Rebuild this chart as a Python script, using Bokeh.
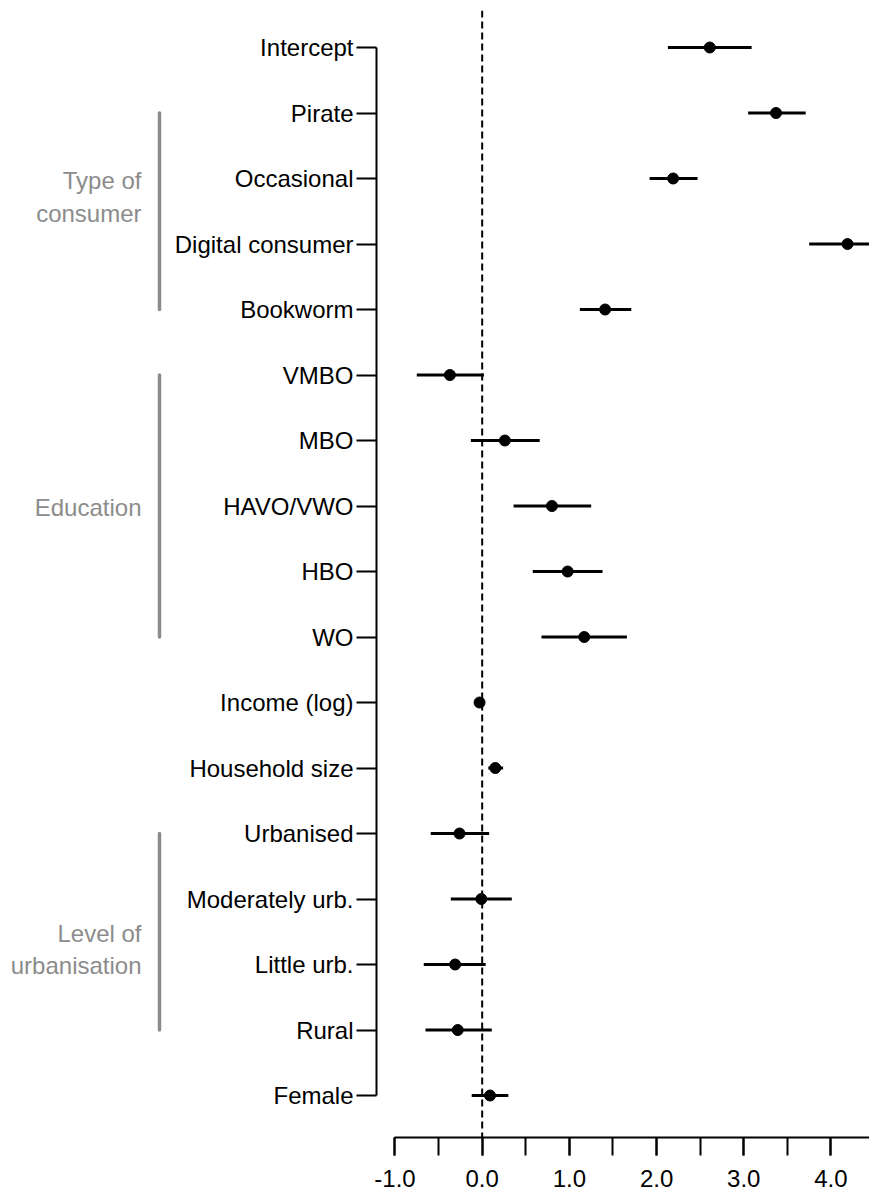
from bokeh.plotting import figure
from bokeh.models import Range1d, FixedTicker, Span, ColumnDataSource, NumeralTickFormatter
from bokeh.layouts import row
from bokeh.embed import file_html
from bokeh.resources import INLINE
from bokeh.core.properties import value

# ---------------- data ----------------
terms = ["Intercept", "Pirate", "Occasional", "Digital consumer", "Bookworm",
         "VMBO", "MBO", "HAVO/VWO", "HBO", "WO",
         "Income (log)", "Household size",
         "Urbanised", "Moderately urb.", "Little urb.", "Rural", "Female"]
estimate = [2.61, 3.37, 2.19, 4.19, 1.41,
            -0.37, 0.26, 0.80, 0.98, 1.17,
            -0.03, 0.15,
            -0.26, -0.01, -0.31, -0.28, 0.09]
ci_low = [2.13, 3.05, 1.92, 3.75, 1.12,
          -0.75, -0.13, 0.36, 0.58, 0.68,
          -0.05, 0.07,
          -0.59, -0.36, -0.67, -0.65, -0.12]
ci_high = [3.09, 3.71, 2.47, 4.63, 1.71,
           0.02, 0.66, 1.25, 1.38, 1.66,
           -0.01, 0.24,
           0.08, 0.34, 0.04, 0.11, 0.30]
x_ticks = [-1, 0, 1, 2, 3, 4]
x_tick_labels = ["-1.0", "0.0", "1.0", "2.0", "3.0", "4.0"]
group_names = ["Type of\nconsumer", "Education", "Level of\nurbanisation"]
group_first = ["Pirate", "VMBO", "Urbanised"]
group_last = ["Bookworm", "WO", "Rural"]

# ---------------- layout ----------------
FONT = "Liberation Sans"
W, H = 869, 1193
n = len(terms)
rows = list(range(n))
y_range = Range1d(start=(n - 1) + 0.641, end=-0.565)

# group label vertical placement (in row units, relative to bracket centre)
group_label_shift = [-0.22, 0.02, 0.27]

g_start = [terms.index(t) for t in group_first]
g_end = [terms.index(t) for t in group_last]
g_label_y = [(a + b) / 2 + s for a, b, s in zip(g_start, g_end, group_label_shift)]

LW = 168
TOP, BOTTOM = 10, 56
left = figure(width=LW, height=H, x_range=Range1d(0, LW), y_range=y_range,
              x_axis_location=None, y_axis_location=None,
              toolbar_location=None, output_backend="svg",
              min_border_left=0, min_border_right=0,
              min_border_top=TOP, min_border_bottom=BOTTOM)
left.outline_line_color = None
left.xgrid.visible = False
left.ygrid.visible = False
left.segment(x0=[159] * 3, x1=[159] * 3, y0=g_start, y1=g_end,
             line_color="#8c8c8c", line_width=3.5, line_cap="round")
left.text(x=[141] * 3, y=g_label_y, text=group_names,
          text_align="right", text_baseline="middle",
          text_font=value(FONT), text_font_size="24px",
          text_color="#8c8c8c", text_line_height=1.2)

p = figure(width=W - LW, height=H, x_range=Range1d(-1.212, 4.442), y_range=y_range,
           toolbar_location=None, output_backend="svg",
           min_border_left=376 - LW, min_border_right=0,
           min_border_top=TOP, min_border_bottom=BOTTOM)
p.outline_line_color = None
p.xgrid.visible = False
p.ygrid.visible = False

# x axis
minor = []
for a, b in zip(x_ticks[:-1], x_ticks[1:]):
    minor += [a, (a + b) / 2]
minor.append(x_ticks[-1])
xa = p.xaxis[0]
xa.ticker = FixedTicker(ticks=x_ticks, minor_ticks=minor)
xa.formatter = NumeralTickFormatter(format="0.0")
xa.major_label_overrides = {t: lab for t, lab in zip(x_ticks, x_tick_labels)}
xa.bounds = (-1.0, 4.442)
xa.axis_line_width = 2
xa.axis_line_color = "black"
xa.major_tick_line_width = 2
xa.minor_tick_line_width = 2
xa.major_tick_line_color = "black"
xa.minor_tick_line_color = "black"
xa.major_tick_out = 18
xa.major_tick_in = 0
xa.minor_tick_out = 18
xa.minor_tick_in = 0
xa.major_label_standoff = 14
xa.major_label_text_font = FONT
xa.major_label_text_font_size = "24px"
xa.major_label_text_color = "black"

# y axis
ya = p.yaxis[0]
ya.ticker = FixedTicker(ticks=rows, minor_ticks=[])
ya.major_label_overrides = {i: t for i, t in zip(rows, terms)}
ya.bounds = (0, n - 1)
ya.axis_line_width = 2
ya.axis_line_color = "black"
ya.major_tick_line_width = 2
ya.major_tick_line_color = "black"
ya.minor_tick_line_color = None
ya.major_tick_out = 20
ya.major_tick_in = 0
ya.major_label_standoff = 3
ya.major_label_text_font = FONT
ya.major_label_text_font_size = "24px"
ya.major_label_text_color = "black"

# zero reference line
p.add_layout(Span(location=0, dimension="height", line_color="black",
                  line_width=2, line_dash="7 4"))

src = ColumnDataSource(dict(y=rows, est=estimate, lo=ci_low, hi=ci_high))
p.segment(x0="lo", x1="hi", y0="y", y1="y", source=src,
          line_color="black", line_width=3)
p.scatter(x="est", y="y", source=src, size=11, fill_color="black", line_color="black")

layout = row(left, p)
open("out.html", "w").write(file_html(layout, INLINE))
